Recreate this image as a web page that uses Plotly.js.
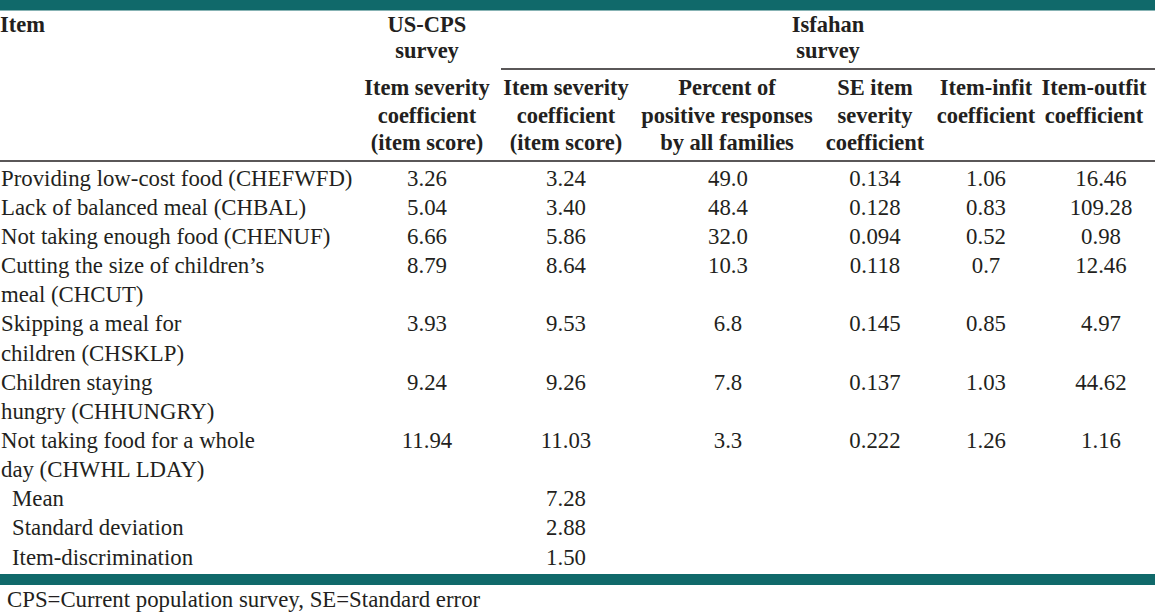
<!DOCTYPE html>
<html>
<head>
<meta charset="utf-8">
<script src="https://cdn.plot.ly/plotly-3.0.1.min.js"></script>
<style>html,body{margin:0;padding:0;background:#fff;}#chart{width:1155px;height:615px;}</style>
</head>
<body>
<div id="chart"></div>
<script>
// ---------- data ----------
const groupHeaders = ["US-CPS<br>survey", "Isfahan<br>survey"];
const columnHeaders = [
  "Item severity<br>coefficient<br>(item score)",
  "Item severity<br>coefficient<br>(item score)",
  "Percent of<br>positive responses<br>by all families",
  "SE item<br>severity<br>coefficient",
  "Item-infit<br>coefficient",
  "Item-outfit<br>coefficient"
];
const items = [
  "Providing low-cost food (CHEFWFD)",
  "Lack of balanced meal (CHBAL)",
  "Not taking enough food (CHENUF)",
  "Cutting the size of children’s<br>meal (CHCUT)",
  "Skipping a meal for<br>children (CHSKLP)",
  "Children staying<br>hungry (CHHUNGRY)",
  "Not taking food for a whole<br>day (CHWHL LDAY)"
];
const usCpsSeverity   = [3.26, 5.04, 6.66, 8.79, 3.93, 9.24, 11.94];
const isfahanSeverity = [3.24, 3.40, 5.86, 8.64, 9.53, 9.26, 11.03];
const percentPositive = [49.0, 48.4, 32.0, 10.3, 6.8, 7.8, 3.3];
const seSeverity      = [0.134, 0.128, 0.094, 0.118, 0.145, 0.137, 0.222];
const itemInfit       = [1.06, 0.83, 0.52, 0.7, 0.85, 1.03, 1.26];
const itemOutfit      = [16.46, 109.28, 0.98, 12.46, 4.97, 44.62, 1.16];
const summaryLabels   = ["Mean", "Standard deviation", "Item-discrimination"];
const summaryValues   = [7.28, 2.88, 1.50];
const footnote = "CPS=Current population survey, SE=Standard error";

// ---------- layout constants ----------
const W = 1155, H = 615;
const FS = 22.8, FSB = 22.5;
const FONT = '"Liberation Serif"';
const INK = "#231f20";
const TEAL = "#10696a";
const colX = [427, 566, 728, 875, 986, 1101];
const headX = [427, 566, 727, 875, 986, 1094];
const decimals = [2, 2, 1, 3, null, 2];
const bodyTop = 179, lineStep = 29.15, shift = 1;
const groupY = [25, 51], headY = [88.5, 116, 143];
const columns = [usCpsSeverity, isfahanSeverity, percentPositive, seSeverity, itemInfit, itemOutfit];

function fmt(v, d) { return d === null ? String(v) : v.toFixed(d); }
function lineY(k) { return bodyTop + lineStep * k + shift; }

const traces = [];
function addText(xs, ys, texts, pos, bold) {
  traces.push({
    type: "scatter", mode: "text", x: xs, y: ys, text: texts,
    textposition: pos, cliponaxis: false, hoverinfo: "skip", showlegend: false,
    textfont: {family: FONT, size: bold ? FSB : FS, color: INK, weight: bold ? "bold" : "normal"}
  });
}

// header: "Item"
addText([0], [groupY[0] + shift], ["Item"], "middle right", true);
// group headers
const groupX = [427, 828];
groupHeaders.forEach((g, i) => {
  const lines = g.split("<br>");
  addText(lines.map(() => groupX[i]), lines.map((_, j) => groupY[j] + shift), lines, "middle center", true);
});
// column headers
columnHeaders.forEach((h, i) => {
  const lines = h.split("<br>");
  addText(lines.map(() => headX[i]), lines.map((_, j) => headY[j] + shift), lines, "middle center", true);
});

// body rows
let k = 0;
const rowStart = [];
const ix = [], iy = [], it = [];
items.forEach((label) => {
  rowStart.push(k);
  label.split("<br>").forEach((ln) => { ix.push(1); iy.push(lineY(k)); it.push(ln); k++; });
});
addText(ix, iy, it, "middle right", false);
columns.forEach((col, c) => {
  addText(col.map(() => colX[c]), col.map((_, r) => lineY(rowStart[r])), col.map(v => fmt(v, decimals[c])), "middle center", false);
});
// summary rows
const sy = summaryLabels.map((_, i) => lineY(k + i));
addText(summaryLabels.map(() => 12), sy, summaryLabels, "middle right", false);
addText(summaryValues.map(() => colX[1]), sy, summaryValues.map(v => v.toFixed(2)), "middle center", false);
// footnote
addText([7], [600 + shift], [footnote], "middle right", false);

const layout = {
  width: W, height: H,
  margin: {l: 0, r: 0, t: 0, b: 0, pad: 0},
  paper_bgcolor: "#ffffff", plot_bgcolor: "#ffffff",
  xaxis: {range: [0, W], visible: false, fixedrange: true},
  yaxis: {range: [H, 0], visible: false, fixedrange: true},
  showlegend: false,
  shapes: [
    {type: "rect", xref: "paper", yref: "y", x0: 0, x1: 1, y0: 0, y1: 10.5, fillcolor: TEAL, line: {width: 0}},
    {type: "rect", xref: "paper", yref: "y", x0: 0, x1: 1, y0: 574, y1: 585, fillcolor: TEAL, line: {width: 0}},
    {type: "line", xref: "x", yref: "y", x0: 501, x1: W, y0: 69, y1: 69, line: {color: INK, width: 1.4}},
    {type: "line", xref: "paper", yref: "y", x0: 0, x1: 1, y0: 161, y1: 161, line: {color: INK, width: 1.4}}
  ]
};

Plotly.newPlot("chart", traces, layout, {staticPlot: true, displayModeBar: false});
</script>
</body>
</html>
